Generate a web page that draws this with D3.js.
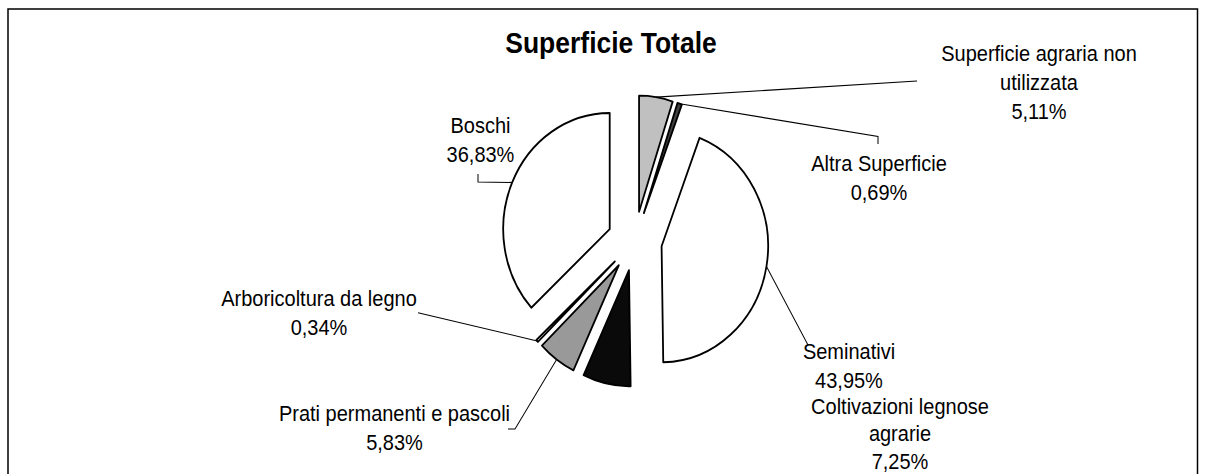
<!DOCTYPE html>
<html>
<head>
<meta charset="utf-8">
<script src="https://cdn.jsdelivr.net/npm/d3@7"></script>
<style>
  html, body { margin: 0; padding: 0; background: #fff; }
  svg { display: block; }
  text { font-family: "Liberation Sans", Arial, sans-serif; fill: #000; }
</style>
</head>
<body>
<svg id="chart" width="1207" height="474"></svg>
<script>
// ---- data ----
const title = "Superficie Totale";
const categories = [
  "Superficie agraria non utilizzata",
  "Altra Superficie",
  "Seminativi",
  "Coltivazioni legnose agrarie",
  "Prati permanenti e pascoli",
  "Arboricoltura da legno",
  "Boschi"
];
const values = [5.11, 0.69, 43.95, 7.25, 5.83, 0.34, 36.83];
const labelLines = [
  ["Superficie agraria non", "utilizzata"],
  ["Altra Superficie"],
  ["Seminativi"],
  ["Coltivazioni legnose", "agrarie"],
  ["Prati permanenti e pascoli"],
  ["Arboricoltura da legno"],
  ["Boschi"]
];

// ---- styles / layout ----
const fills = ["#c0c0c0", "#404040", "#ffffff", "#0a0a0a", "#999999", "#ffffff", "#ffffff"];
const W = 1207, H = 474;
const k = 1.09;                 // vertical stretch of the original picture
const center = [634.7, 241.1];  // screen coords of unexploded pie centre
const radius = 106.5;
const explode = 27.3;
// label anchor: centre x, first baseline, line height (screen)
const labelPos = [
  [1039, 61, 29], [879, 171.5, 29], [849, 359, 29], [900, 414, 27.5],
  [394.5, 421.5, 29], [319, 306, 29], [480.5, 133.3, 29]
];
// leader line points from label side (screen), null = no leader
const leaderPts = [
  [[917, 81]],
  [[878, 144], [878, 136.5]],
  [[808, 345]],
  null,
  [[508, 429], [515, 429]],
  [[418, 312.7]],
  [[478, 174], [478, 182]]
];

const pctFmt = d3.formatLocale({decimal: ",", thousands: ".", grouping: [3], currency: ["", "€"]}).format(".2f");

const svg = d3.select("#chart");
svg.append("rect").attr("width", W).attr("height", H).attr("fill", "#fff");

// frame
const frame = d3.path();
frame.moveTo(8, H); frame.lineTo(8, 9); frame.lineTo(1197.5, 9); frame.lineTo(1197.5, H);
svg.append("path").attr("d", frame.toString()).attr("fill", "none")
  .attr("stroke", "#000").attr("stroke-width", 1.5);

const g = svg.append("g").attr("transform", `scale(1,${k})`);
const Y = y => y / k;

g.append("text").attr("x", 611).attr("y", Y(53)).attr("text-anchor", "middle")
  .attr("font-size", 26.5).attr("font-weight", "bold").text(title);

const pie = d3.pie().sort(null).value(d => d)(values);
const arc = d3.arc().innerRadius(0).outerRadius(radius);
const cx = center[0], cy = Y(center[1]);

pie.forEach((p, i) => {
  const mid = (p.startAngle + p.endAngle) / 2;
  const ox = cx + explode * Math.sin(mid);
  const oy = cy - explode * Math.cos(mid);
  g.append("path")
    .attr("d", arc(p))
    .attr("transform", `translate(${ox},${oy})`)
    .attr("fill", fills[i])
    .attr("stroke", "#000")
    .attr("stroke-width", 1.8)
    .attr("stroke-linejoin", "round");

  // leader line
  if (leaderPts[i]) {
    const sx = ox + radius * Math.sin(mid);
    const sy = oy - radius * Math.cos(mid);
    const pts = leaderPts[i].map(q => [q[0], Y(q[1])]);
    pts.push([sx, sy]);
    g.append("path").attr("d", d3.line()(pts)).attr("fill", "none")
      .attr("stroke", "#000").attr("stroke-width", 1);
  }

  // label
  const lines = labelLines[i].concat([pctFmt(p.value) + "%"]);
  const [lx, ly, lh] = labelPos[i];
  const t = g.append("text").attr("text-anchor", "middle").attr("font-size", 20);
  lines.forEach((ln, j) => {
    t.append("tspan").attr("x", lx).attr("y", Y(ly + j * lh)).text(ln);
  });
});
</script>
</body>
</html>
